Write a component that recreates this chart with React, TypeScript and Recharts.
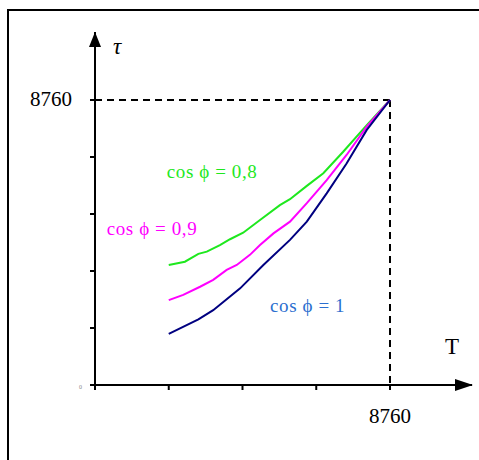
import { LineChart, Line, XAxis, YAxis, ReferenceLine, ReferenceDot } from "recharts"

// hours of use T (x) vs hours of losses tau (y)
const HOURS = 8760
const X_MAX = 11195
const Y_MAX = 10850

const xTicks = [0, 2190, 4380, 6570, 8760]
const yTicks = [0, 1752, 3504, 5256, 7008, 8760]

const cos1 = [
    { T: 2190, tau: 1570 }, { T: 3070, tau: 2020 }, { T: 3510, tau: 2300 },
    { T: 4310, tau: 2970 }, { T: 5000, tau: 3690 }, { T: 5790, tau: 4460 },
    { T: 6290, tau: 5020 }, { T: 6880, tau: 5890 }, { T: 7470, tau: 6810 },
    { T: 8070, tau: 7840 }, { T: 8760, tau: 8760 },
]

const cos09 = [
    { T: 2190, tau: 2610 }, { T: 2620, tau: 2770 }, { T: 3120, tau: 3020 },
    { T: 3510, tau: 3230 }, { T: 3910, tau: 3540 }, { T: 4210, tau: 3690 },
    { T: 4600, tau: 4000 }, { T: 4900, tau: 4300 }, { T: 5300, tau: 4660 },
    { T: 5790, tau: 5020 }, { T: 6290, tau: 5590 }, { T: 6880, tau: 6300 },
    { T: 7470, tau: 7070 }, { T: 8070, tau: 7940 }, { T: 8760, tau: 8760 },
]

const cos08 = [
    { T: 2190, tau: 3690 }, { T: 2670, tau: 3790 }, { T: 3070, tau: 4030 },
    { T: 3320, tau: 4100 }, { T: 3710, tau: 4300 }, { T: 4010, tau: 4480 },
    { T: 4400, tau: 4680 }, { T: 4900, tau: 5070 }, { T: 5490, tau: 5530 },
    { T: 5790, tau: 5710 }, { T: 6290, tau: 6120 }, { T: 6780, tau: 6510 },
    { T: 7370, tau: 7170 }, { T: 8070, tau: 7990 }, { T: 8760, tau: 8760 },
]

const FONT = "'Liberation Serif', 'Times New Roman', serif"

function XTick({ x, y, payload }: any) {
    if (payload.value !== HOURS) return null
    return (
        <text x={x} y={y} dy="0.71em" textAnchor="middle" fontSize={21} fontFamily={FONT} fill="#000">
            {payload.value}
        </text>
    )
}

function YTick({ x, y, payload }: any) {
    if (payload.value === 0) {
        return <text x={x + 7} y={y + 4} fontSize={6} fill="#888" fontFamily={FONT}>0</text>
    }
    if (payload.value !== HOURS) return null
    return (
        <text x={x} y={y} dy="0.3em" textAnchor="end" fontSize={21} fontFamily={FONT} fill="#000">
            {payload.value}
        </text>
    )
}

const textShape = (txt: string, color: string, size: number, italic = false) => (p: any) => (
    <text x={p.cx} y={p.cy} fill={color} fontSize={size} fontFamily={FONT}
        fontStyle={italic ? "italic" : "normal"} letterSpacing={txt.startsWith("cos") ? 0.6 : 0}>
        {txt}
    </text>
)

const arrowRight = (p: any) => (
    <polygon points={`${p.cx - 17},${p.cy - 6} ${p.cx + 1},${p.cy} ${p.cx - 17},${p.cy + 6}`} fill="#000" />
)
const arrowUp = (p: any) => (
    <polygon points={`${p.cx - 6},${p.cy + 15} ${p.cx},${p.cy} ${p.cx + 6},${p.cy + 15}`} fill="#000" />
)

export default function App() {
    return (
        <div style={{ position: "absolute", left: 0, top: 0, width: 479, height: 460, background: "#fff" }}>
            <div style={{ position: "absolute", left: 7, top: 9, width: 472, height: 451, borderLeft: "2px solid #000", borderTop: "2px solid #000", boxSizing: "border-box" }} />
            <div style={{ position: "absolute", left: 0, top: 0 }}>
                <LineChart width={479} height={460} margin={{ top: 32, right: 7, bottom: 0, left: 0 }}>
                    <XAxis
                        type="number"
                        dataKey="T"
                        domain={[0, X_MAX]}
                        ticks={xTicks}
                        allowDataOverflow
                        tickSize={5}
                        tickMargin={18}
                        tick={<XTick />}
                        axisLine={{ stroke: "#000", strokeWidth: 2 }}
                        tickLine={{ stroke: "#000", strokeWidth: 2 }}
                        height={75}
                    />
                    <YAxis
                        type="number"
                        dataKey="tau"
                        domain={[0, Y_MAX]}
                        ticks={yTicks}
                        allowDataOverflow
                        tickSize={5}
                        tickMargin={18}
                        tick={<YTick />}
                        axisLine={{ stroke: "#000", strokeWidth: 2 }}
                        tickLine={{ stroke: "#000", strokeWidth: 2 }}
                        width={95}
                    />
                    <ReferenceLine segment={[{ x: 0, y: HOURS }, { x: HOURS, y: HOURS }]} stroke="#000" strokeWidth={2} strokeDasharray="7 5" />
                    <ReferenceLine segment={[{ x: HOURS, y: HOURS }, { x: HOURS, y: 0 }]} stroke="#000" strokeWidth={2} strokeDasharray="7 5" />
                    <Line data={cos08} dataKey="tau" type="linear" stroke="#1ee81e" strokeWidth={2} dot={false} isAnimationActive={false} />
                    <Line data={cos09} dataKey="tau" type="linear" stroke="#ff00ff" strokeWidth={2} dot={false} isAnimationActive={false} />
                    <Line data={cos1} dataKey="tau" type="linear" stroke="#000080" strokeWidth={2} dot={false} isAnimationActive={false} />
                    <ReferenceDot x={X_MAX} y={0} ifOverflow="visible" shape={arrowRight} />
                    <ReferenceDot x={0} y={Y_MAX} ifOverflow="visible" shape={arrowUp} />
                    <ReferenceDot x={535} y={10174} ifOverflow="visible" shape={textShape("τ", "#000", 23, true)} />
                    <ReferenceDot x={10393} y={953} ifOverflow="visible" shape={textShape("T", "#000", 23)} />
                    <ReferenceDot x={2131} y={6369} ifOverflow="visible" shape={textShape("cos ϕ = 0,8", "#1ee81e", 19)} />
                    <ReferenceDot x={347} y={4611} ifOverflow="visible" shape={textShape("cos ϕ = 0,9", "#ff00ff", 19)} />
                    <ReferenceDot x={5197} y={2253} ifOverflow="visible" shape={textShape("cos ϕ = 1", "#2b6fcf", 19)} />
                </LineChart>
            </div>
        </div>
    )
}
